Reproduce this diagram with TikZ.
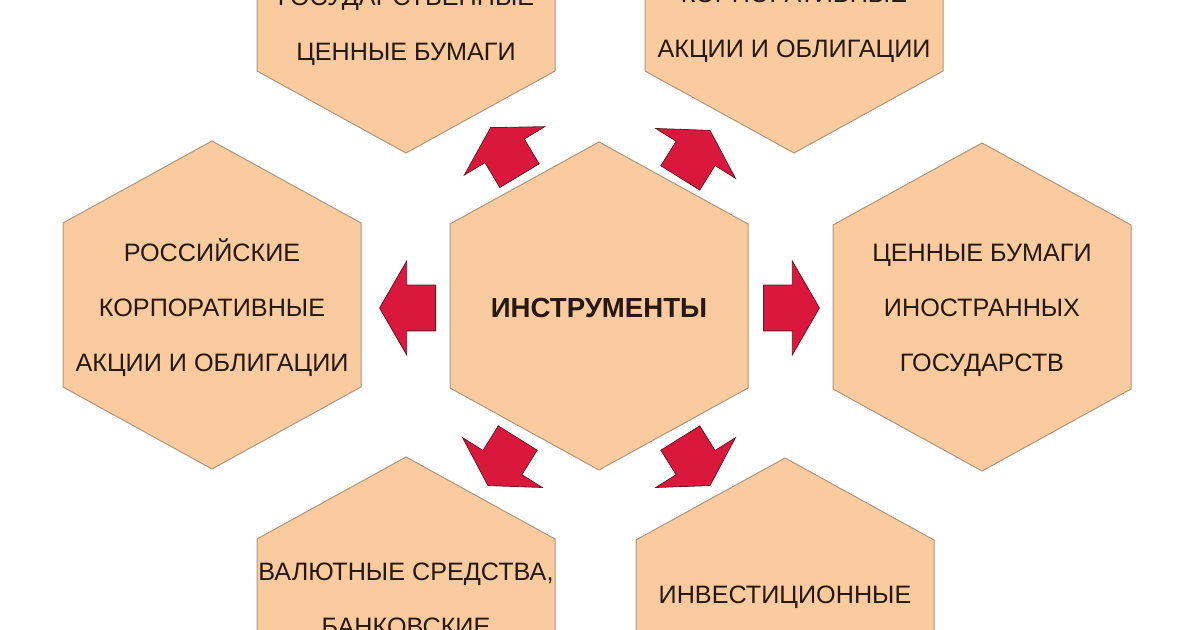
\documentclass[tikz,border=0pt]{standalone}
\usepackage{fontspec}
\setmainfont{Liberation Sans}
\usetikzlibrary{calc,shapes.arrows,positioning}
\definecolor{myfill}{RGB}{250,203,158}
\definecolor{myline}{RGB}{175,150,125}
\definecolor{myred}{RGB}{218,24,62}
\definecolor{mydark}{RGB}{110,20,35}
\definecolor{mybrown}{RGB}{38,24,16}

\begin{document}
\begin{tikzpicture}[
  x=0.5pt, y=0.5pt,
  mycell/.style={
    draw=myline,
    fill=myfill,
    line width=0.5pt
    },
  mytext/.style={
    font=\fontsize{12.6}{27.5}\selectfont,
    text=mybrown,
    align=center,
    inner sep=0pt
    },
  myarrow/.style={
    single arrow,
    draw=mydark,
    fill=myred,
    line width=0.4pt,
    inner xsep=0pt,
    inner ysep=11.25pt,
    minimum height=28pt,
    single arrow head extend=12pt,
    single arrow tip angle=120,
    anchor=tail,
    rotate=#1
    },
  pics/hexa/.style={
    code={\path[mycell] (0,164) -- (149,82) -- (149,-82) -- (0,-164) -- (-149,-82) -- (-149,82) -- cycle;}
    }
]
\useasboundingbox (0,0) rectangle (1200,630);
\clip (0,0) rectangle (1200,630);

% hexagons
\foreach \cx/\cy in {599/324, 212/325, 982/323, 406/641, 794/641, 406/9, 785/8}
  \pic at (\cx,\cy) {hexa};

% texts
\node[mytext, font=\fontsize{13.8}{27.5}\selectfont\bfseries] (instr) at (599,322) {ИНСТРУМЕНТЫ};
\node[mytext] (rusCorp) at (212,322) {РОССИЙСКИЕ\\КОРПОРАТИВНЫЕ\\АКЦИИ И ОБЛИГАЦИИ};
\node[mytext] (foreignGov) at (982,320) {ЦЕННЫЕ БУМАГИ\\ИНОСТРАННЫХ\\ГОСУДАРСТВ};
\node[mytext] (govSec) at (406,603) {ГОСУДАРСТВЕННЫЕ\\ЦЕННЫЕ БУМАГИ};
\node[mytext] (foreignCorp) at (794,606) {КОРПОРАТИВНЫЕ\\АКЦИИ И ОБЛИГАЦИИ};
\node[mytext] (currency) at (406,31) {ВАЛЮТНЫЕ СРЕДСТВА,\\БАНКОВСКИЕ};
\node[mytext] (funds) at (785,33) {ИНВЕСТИЦИОННЫЕ};

% arrows
\foreach \ang/\dist in {180/163, 0/164, 121/154, 58/153, -122/153, -58/153}
  \node[myarrow=\ang] (arrow\ang) at ($(instr.center)+(\ang:\dist)$) {};

\end{tikzpicture}
\end{document}
